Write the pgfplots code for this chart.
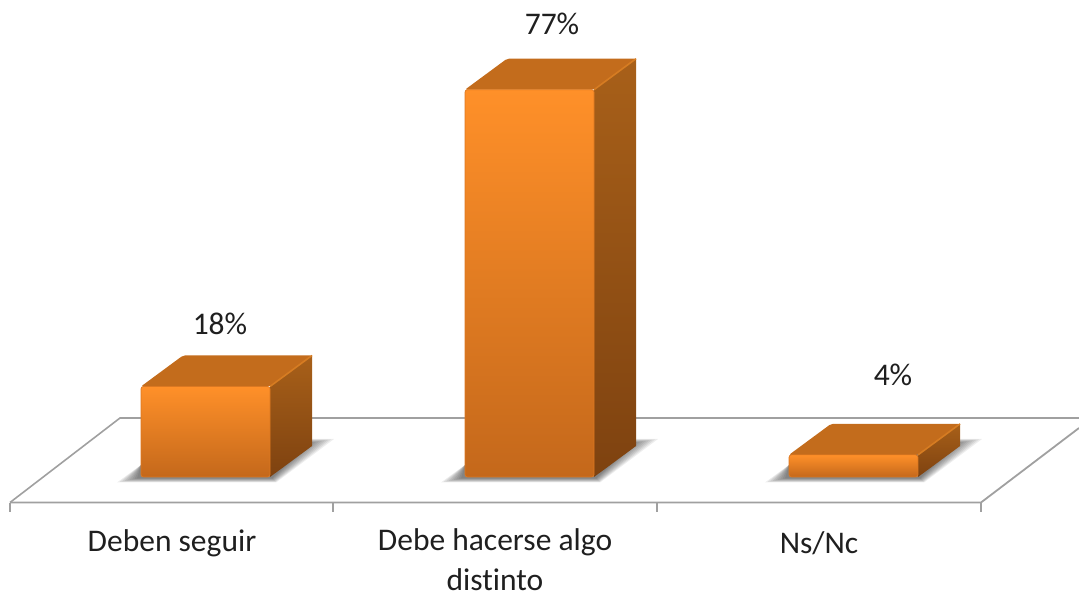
\documentclass[border=0pt]{standalone}
\usepackage{fontspec}
\setmainfont[RawFeature={-liga}]{Carlito}
\usepackage{pgfplots}
\pgfplotsset{compat=1.18}
\definecolor{floorline}{HTML}{A0A0A0}
\definecolor{frontTop}{HTML}{FF9029}
\definecolor{frontMid}{HTML}{E8801F}
\definecolor{frontBot}{HTML}{C4681B}
\definecolor{topface}{HTML}{C36C1C}
\definecolor{topedge}{HTML}{D67C22}
\definecolor{sideTop}{HTML}{A86019}
\definecolor{sideBot}{HTML}{7E4210}
% y axis is in percent, 5.03 px per percent; x axis is in px
\newcommand{\Y}[2]{\pgfmathsetmacro#1{(477-(#2))/5.03}}
\newcommand{\barshadow}[1]{%
  \foreach \l in {0,0.5,...,4}{%
    \pgfmathsetmacro\xa{#1-24+5*\l}\Y\ya{482.5-\l}%
    \pgfmathsetmacro\xb{#1+135-\l}%
    \pgfmathsetmacro\xc{#1+193-6*\l}\Y\yc{439+\l}%
    \pgfmathsetmacro\xd{#1+129}%
    \pgfmathsetmacro\xe{#1}\Y\ye{465}%
    \edef\tmp{\noexpand\addplot[draw=none,fill=black,fill opacity=0.07] coordinates
      {(\xa,\ya) (\xb,\ya) (\xc,\yc) (\xd,\yc) (\xe,\ye)} -- cycle;}\tmp
  }%
}
\newcommand{\barfaces}[2]{%
  \pgfmathsetmacro\xa{#1}\pgfmathsetmacro\xb{#1+42}%
  \pgfmathsetmacro\xc{#1+129}\pgfmathsetmacro\xd{#1+171}%
  \pgfmathsetmacro\yb{#2+6.16}%
  \edef\tmp{\noexpand\addplot[draw=none,top color=sideTop,bottom color=sideBot] coordinates
    {(\xc,0) (\xd,6.16) (\xd,\yb) (\xc,#2)} -- cycle;}\tmp
  \edef\tmp{\noexpand\addplot[draw=none,fill=topface,rounded corners=2pt] coordinates
    {(\xa,#2) (\xb,\yb) (\xd,\yb) (\xc,#2)} -- cycle;}\tmp
  \edef\tmp{\noexpand\addplot[topedge,line width=1.6pt] coordinates
    {(\xc,#2) (\xd,\yb)};}\tmp
}
\pgfplotsset{frontbar/.style={ybar,bar width=129pt,bar shift=0pt,
  draw=frontBot!60!frontTop,line width=0.7pt,rounded corners=2.5pt,
  top color=frontTop,middle color=frontMid,bottom color=frontBot}}
\begin{document}
\begin{tikzpicture}
\path[use as bounding box] (0,0) rectangle (1079pt,594pt);
\begin{axis}[
  scale only axis,
  width=1079pt,
  height=594pt,
  xmin=0, xmax=1079,
  ymin=-23.26, ymax=94.83,
  hide axis,
  clip=true,
]
% floor
\addplot[floorline,line width=1.6pt] coordinates {(10,-5.07) (120,11.73) (1079,11.73)};
\addplot[floorline,line width=1.8pt] coordinates {(10,-5.07) (981,-5.07) (1079,9.74)};
\addplot[floorline,line width=1.5pt] coordinates {(10,-5.07) (10,-6.96)};
\addplot[floorline,line width=1.5pt] coordinates {(333,-5.07) (333,-6.96)};
\addplot[floorline,line width=1.5pt] coordinates {(657,-5.07) (657,-6.96)};
\addplot[floorline,line width=1.5pt] coordinates {(981,-5.07) (981,-6.96)};
% shadows
\barshadow{141}
\barshadow{465}
\barshadow{789}
% side and top faces
\barfaces{141}{18}
\barfaces{465}{77}
\barfaces{789}{4.4}
% front faces
\addplot[frontbar] coordinates {(205.5,18)};
\addplot[frontbar] coordinates {(529.5,77)};
\addplot[frontbar] coordinates {(853.5,4.4)};
% labels
\begin{scope}[every node/.style={font=\fontsize{31.5}{40}\selectfont,text=black!88}]
\node at (axis cs:220,30.4) {18\%};
\node at (axis cs:552,90) {77\%};
\node at (axis cs:893,20.3) {4\%};
\node at (axis cs:172,-13.1) {Deben seguir};
\node[align=center,inner sep=0pt] at (axis cs:495,-16.5) {Debe hacerse algo\\distinto};
\node at (axis cs:819,-13.1) {Ns/Nc};
\end{scope}
\end{axis}
\end{tikzpicture}
\end{document}
